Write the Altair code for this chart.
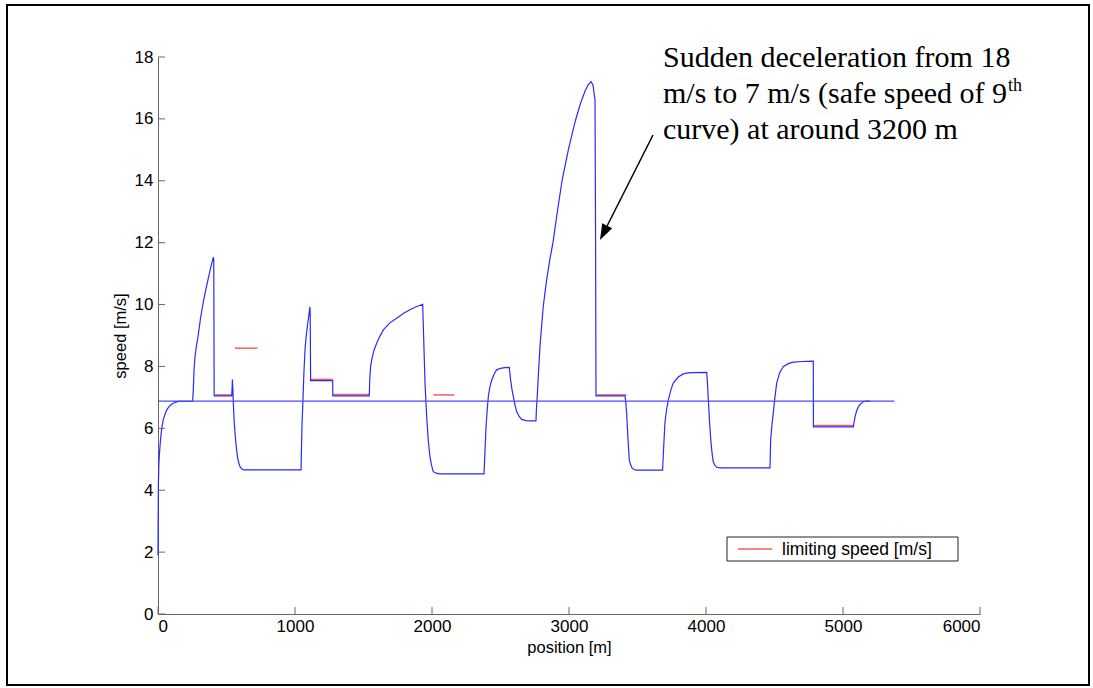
import math
import altair as alt
import pandas as pd

# ---------------- data ----------------
speed_pos = [0, 1, 3, 6, 10, 15, 21, 28, 37, 48, 62, 80, 100, 125, 150, 253,
             258, 263, 270, 280, 294, 310, 331, 350, 367, 385, 404, 407, 410,
             538, 541, 543, 546, 549, 553, 557, 563, 569, 575, 582, 590, 599, 611, 625,
             1044, 1047, 1051, 1058, 1065, 1073, 1081, 1090, 1100, 1109, 1111, 1114,
             1275, 1276, 1542,
             1546, 1552, 1560, 1575, 1596, 1620, 1645, 1690, 1742, 1790, 1839, 1885, 1932,
             1949, 1961, 1973, 1985, 1997, 2009, 2030, 2058,
             2380, 2386, 2395, 2403, 2411, 2423, 2436, 2453, 2472, 2500, 2530, 2564,
             2568, 2574, 2584, 2594, 2606, 2618, 2635, 2655, 2685, 2715, 2759,
             2762, 2768, 2778, 2788, 2800, 2812, 2825, 2837, 2860, 2883, 2915, 2949,
             2995, 3044, 3080, 3117, 3140, 3161, 3175, 3190, 3194, 3197,
             3409, 3415, 3421, 3430, 3440, 3450, 3460, 3475, 3490,
             3683, 3690, 3700, 3712, 3725, 3742, 3761, 3795, 3834, 3870, 3907, 4005,
             4010, 4017, 4026, 4035, 4044, 4053, 4065, 4078, 4100,
             4467, 4472, 4481, 4491, 4503, 4516, 4538, 4564, 4600, 4637, 4700, 4783,
             4784, 5075,
             5081, 5088, 5100, 5112, 5130, 5148, 5170, 5197]
speed_val = [1.9, 3.0, 4.2, 4.8, 5.15, 5.45, 5.75, 6.02, 6.25, 6.42, 6.58, 6.7, 6.78, 6.84, 6.87, 6.88,
             7.3, 7.9, 8.3, 8.65, 9.02, 9.55, 10.09, 10.5, 10.85, 11.2, 11.53, 11.45, 7.05,
             7.05, 7.3, 7.58, 7.3, 6.9, 6.5, 6.16, 5.8, 5.52, 5.25, 5.03, 4.88, 4.76, 4.69, 4.66,
             4.66, 5.3, 6.1, 6.9, 7.8, 8.53, 8.95, 9.29, 9.62, 9.93, 9.7, 7.54,
             7.54, 7.05, 7.05,
             7.6, 8.0, 8.21, 8.5, 8.75, 8.98, 9.18, 9.4, 9.56, 9.71, 9.83, 9.93, 10.01,
             7.46, 6.38, 5.6, 5.08, 4.8, 4.6, 4.55, 4.53,
             4.53, 5.2, 6.1, 6.6, 7.02, 7.35, 7.56, 7.75, 7.89, 7.94, 7.96, 7.97,
             7.8, 7.56, 7.25, 7.02, 6.75, 6.54, 6.39, 6.29, 6.25, 6.24, 6.24,
             6.6, 7.02, 7.85, 8.64, 9.3, 9.93, 10.4, 10.8, 11.45, 12.0, 13.0, 14.0,
             15.0, 15.9, 16.45, 16.9, 17.1, 17.2, 17.1, 16.6, 12.0, 7.05,
             7.05, 6.8, 6.49, 5.7, 4.98, 4.82, 4.72, 4.67, 4.65,
             4.65, 5.3, 6.16, 6.6, 6.92, 7.22, 7.46, 7.65, 7.76, 7.79, 7.8, 7.81,
             7.5, 6.92, 6.2, 5.62, 5.2, 4.92, 4.8, 4.74, 4.72,
             4.72, 5.62, 6.1, 6.49, 7.0, 7.46, 7.8, 7.99, 8.09, 8.14, 8.16, 8.17,
             6.05, 6.05,
             6.2, 6.38, 6.57, 6.7, 6.8, 6.86, 6.88, 6.88]

flat_pos = [0, 5375]
flat_val = [6.88, 6.88]

limit_start = [416, 562, 1109, 1275, 2010, 3201, 4783]
limit_end = [538, 725, 1275, 1542, 2163, 3420, 5075]
limit_val = [7.08, 8.59, 7.58, 7.09, 7.08, 7.08, 6.09]
limit_name = "limiting speed [m/s]"

x_ticks = [0, 1000, 2000, 3000, 4000, 5000, 6000]
y_ticks = [0, 2, 4, 6, 8, 10, 12, 14, 16, 18]

ann_lines = ["Sudden deceleration from 18",
             "m/s to 7 m/s (safe speed of 9",
             "curve) at around 3200 m"]
ann_sup = "th"

# ---------------- layout ----------------
W, H = 822, 557
PL, PT = 158, 57
AXC = "#666666"
BLUE = "#2a2aff"
RED = "#ff5a5a"

xs = alt.Scale(domain=[0, 6000], nice=False, zero=False)
ys = alt.Scale(domain=[0, 18], nice=False, zero=False)

speed_df = pd.DataFrame({"pos": speed_pos, "v": speed_val, "i": range(len(speed_pos))})
flat_df = pd.DataFrame({"pos": flat_pos, "v": flat_val})
limit_df = pd.DataFrame({"s": limit_start, "e": limit_end, "v": limit_val})
xt_df = pd.DataFrame({"t": x_ticks})
yt_df = pd.DataFrame({"t": y_ticks})
one = pd.DataFrame({"a": [0]})

x_axis = alt.Axis(values=x_ticks, format="d", title="position [m]", grid=False, ticks=False,
                  tickSize=0, domainColor=AXC, labelColor="black",
                  labelFont="Liberation Sans", labelFontSize=17, labelPadding=4,
                  titleFont="Liberation Sans", titleFontSize=16.5, titleFontWeight="normal",
                  titleColor="black", titleY=38, titleBaseline="alphabetic")
y_axis = alt.Axis(values=y_ticks, format="d", title="speed [m/s]", grid=False, ticks=False,
                  tickSize=0, domainColor=AXC, labelColor="black",
                  labelFont="Liberation Sans", labelFontSize=17, labelPadding=5,
                  titleFont="Liberation Sans", titleFontSize=16.5, titleFontWeight="normal",
                  titleColor="black", titleX=-38, titleBaseline="middle")

limits = alt.Chart(limit_df).mark_rule(strokeWidth=1.5, color=RED).encode(
    x=alt.X("s:Q", scale=xs, axis=x_axis),
    x2="e:Q",
    y=alt.Y("v:Q", scale=ys, axis=y_axis),
)

speed = alt.Chart(speed_df).mark_line(color=BLUE, strokeWidth=1.2).encode(
    x=alt.X("pos:Q", scale=xs), y=alt.Y("v:Q", scale=ys), order="i:Q")

flat = alt.Chart(flat_df).mark_line(color="#4a4aff", strokeWidth=1.2).encode(
    x=alt.X("pos:Q", scale=xs), y=alt.Y("v:Q", scale=ys))

xticks = alt.Chart(xt_df).mark_rule(color=AXC).encode(
    x=alt.X("t:Q", scale=xs), y=alt.value(H), y2=alt.value(H - 7))
yticks = alt.Chart(yt_df).mark_rule(color=AXC).encode(
    y=alt.Y("t:Q", scale=ys), x=alt.value(0), x2=alt.value(7))

frame = alt.Chart(one).mark_rect(fill="white", fillOpacity=0, stroke="black", strokeWidth=2).encode(
    x=alt.value(7 - PL), x2=alt.value(1089 - PL), y=alt.value(5 - PT), y2=alt.value(685 - PT))

# legend box (top-right of the lower plot area)
leg_box = alt.Chart(one).mark_rect(fill="white", stroke="#222222", strokeWidth=1).encode(
    x=alt.value(727 - PL), x2=alt.value(958 - PL), y=alt.value(537 - PT), y2=alt.value(561 - PT))
leg_line = alt.Chart(one).mark_rule(color=RED, strokeWidth=1.5).encode(
    x=alt.value(738 - PL), x2=alt.value(772 - PL), y=alt.value(549 - PT))
leg_text = alt.Chart(one).mark_text(align="left", baseline="alphabetic", font="Liberation Sans",
                                    fontSize=17.5, color="black").encode(
    x=alt.value(782 - PL), y=alt.value(555 - PT), text=alt.value(limit_name))

FS = 30
tx = 663 - PL
text_layers = []
for line, base in zip(ann_lines, [67, 103, 139]):
    text_layers.append(
        alt.Chart(one).mark_text(align="left", baseline="alphabetic", font="Liberation Serif",
                                 fontSize=FS, color="black").encode(
            x=alt.value(tx), y=alt.value(base - PT), text=alt.value(line)))
sup_x = tx + 11.47 * FS + 1
text_layers.append(
    alt.Chart(one).mark_text(align="left", baseline="alphabetic", font="Liberation Serif",
                             fontSize=18, color="black").encode(
        x=alt.value(sup_x), y=alt.value(91 - PT), text=alt.value(ann_sup)))

# arrow
sx, sy = 653 - PL, 135 - PT
tipx, tipy = 600 - PL, 240 - PT
dx, dy = tipx - sx, tipy - sy
L = math.hypot(dx, dy)
ux, uy = dx / L, dy / L
head = 16
bx, by = tipx - head * ux, tipy - head * uy
cx, cy = tipx - head / 2 * ux, tipy - head / 2 * uy
ang = (math.degrees(math.atan2(ux, -uy))) % 360

arrow_line = alt.Chart(one).mark_rule(color="black", strokeWidth=1.5).encode(
    x=alt.value(sx), y=alt.value(sy), x2=alt.value(bx), y2=alt.value(by))
arrow_head = alt.Chart(one).mark_point(shape="M0,-1L0.7,1L-0.7,1Z", filled=True, color="black",
                                       opacity=1, size=head * head, angle=ang).encode(
    x=alt.value(cx), y=alt.value(cy))

chart = alt.layer(frame, limits, speed, flat, xticks, yticks, arrow_line, arrow_head,
                  leg_box, leg_line, leg_text, *text_layers).properties(
    width=W, height=H,
    autosize=alt.AutoSizeParams(type="none"),
    padding={"left": PL, "top": PT, "right": 1093 - PL - W, "bottom": 688 - PT - H},
    background="white",
).configure_view(strokeWidth=0)

chart.save("out.html", embed_options={"renderer": "svg", "actions": False})
